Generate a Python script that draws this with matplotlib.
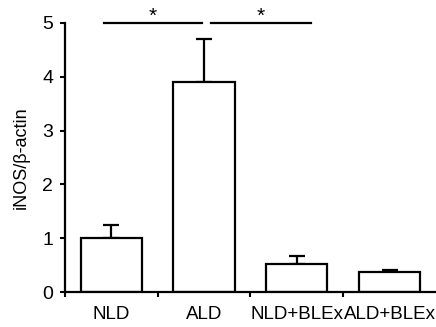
import matplotlib.pyplot as plt

plt.rcParams['font.family'] = ['Liberation Sans', 'DejaVu Sans']

groups = ['NLD', 'ALD', 'NLD+BLEx', 'ALD+BLEx']
means = [1.0, 3.9, 0.52, 0.38]
errs = [0.25, 0.8, 0.14, 0.03]
# significance brackets: (x start, x end, height)
sig = [(-0.08, 0.98, 5.0), (1.07, 2.15, 5.0)]

fig = plt.figure(figsize=(4.36, 3.27), dpi=100)
ax = fig.add_axes([0.149, 0.107, 0.851, 0.823])

x = list(range(len(groups)))
ax.bar(x, means, width=0.66, color='white', edgecolor='black', linewidth=1.6, zorder=2)
ax.errorbar(x, means, yerr=[[0] * len(errs), errs], fmt='none', ecolor='black',
            elinewidth=1.6, capsize=5.5, capthick=1.6, zorder=1)

for x0, x1, h in sig:
    ax.plot([x0, x1], [h, h], color='black', lw=1.6, clip_on=False)
    ax.text((x0 + x1) / 2, h + 0.12, '*', ha='center', va='center', fontsize=15, clip_on=False)

ax.set_xlim(-0.5, 3.5)
ax.set_ylim(0, 5)
ax.set_yticks([0, 1, 2, 3, 4, 5])
ax.tick_params(axis='y', direction='out', length=3.5, width=1.5, labelsize=14, pad=5)
ax.set_xticks(x)
ax.set_xticklabels(groups, fontsize=13.5)
ax.set_xticks([-0.5, 0.5, 1.5, 2.5], minor=True)
ax.tick_params(axis='x', which='major', length=0, pad=10)
ax.tick_params(axis='x', which='minor', direction='out', length=3.5, width=1.5)
ax.set_ylabel('iNOS/β-actin', fontsize=13, labelpad=9)

for s in ['top', 'right']:
    ax.spines[s].set_visible(False)
for s in ['left', 'bottom']:
    ax.spines[s].set_linewidth(1.6)

plt.savefig('out.png')
